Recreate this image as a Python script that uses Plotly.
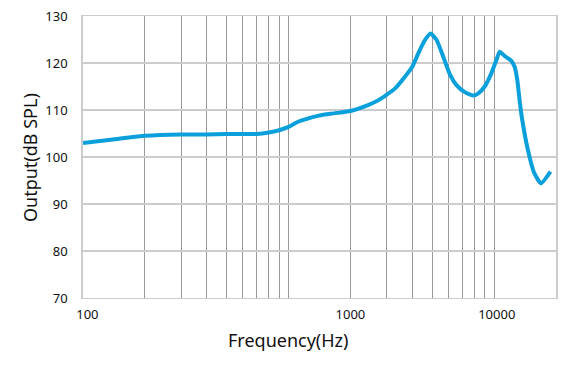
import plotly.graph_objects as go

# Frequency response data
freq_hz = [100, 150, 200, 300, 400, 500, 600, 700, 800, 900, 1000, 1100, 1250, 1400,
           1600, 2000, 2450, 2740, 3300, 4000, 4280, 4610, 4900, 5250, 5660, 6090, 6560,
           7200, 7900, 8350, 9000, 9690, 10250, 10640, 11250, 12100, 12580, 12960, 13300,
           13700, 14600, 15700, 16900, 18800]
output_db = [103.0, 103.9, 104.5, 104.8, 104.8, 104.9, 104.9, 104.9, 105.2, 105.7, 106.4,
             107.4, 108.2, 108.8, 109.2, 109.8, 111.1, 112.1, 114.6, 119.2, 122.1, 124.9,
             126.3, 124.9, 121.3, 117.6, 115.3, 113.8, 113.1, 113.5, 115.0, 117.8, 120.6,
             122.4, 121.5, 120.5, 119.2, 116.4, 112.1, 107.9, 101.5, 96.5, 94.4, 96.9]

# Axis labels (as printed in the reference)
x_tick_text = ["100", "1000", "10000"]
x_tick_pos = [105, 2000, 10300]
grid_freqs = [200, 300, 400, 500, 600, 700, 800, 900, 1000,
              2000, 3000, 4000, 5000, 6000, 7000, 8000, 9000, 10000]
y_ticks = [70, 80, 90, 100, 110, 120, 130]
x_title = "Frequency(Hz)"
y_title = "Output(dB SPL)"

fig = go.Figure()
fig.add_trace(go.Scatter(
    x=freq_hz, y=output_db, mode="lines",
    line=dict(color="#0aa0dc", width=4, shape="spline", smoothing=0.5),
    showlegend=False, hoverinfo="skip"))

font_family = "Noto Sans"
L, R, T, B, W, H = 83, 19, 16, 70, 575, 368
pw, ph = W - L - R, H - T - B

fig.update_layout(
    width=W, height=H,
    margin=dict(l=L, r=R, t=T, b=B),
    paper_bgcolor="white", plot_bgcolor="white",
    font=dict(family=font_family, color="#111111", size=13),
    xaxis=dict(
        type="log", range=[2, 4.301], automargin=False,
        tickvals=x_tick_pos, ticktext=x_tick_text,
        showgrid=False, zeroline=False,
        ticks="", ticklabelstandoff=4,
        tickfont=dict(size=13, family=font_family),
        showline=True, linecolor="#cccccc", linewidth=1, mirror=True,
        minor=dict(tickvals=grid_freqs, showgrid=True, gridcolor="#999999",
                   gridwidth=1, ticks=""),
    ),
    yaxis=dict(
        range=[70, 130], tickvals=y_ticks, automargin=False,
        showgrid=True, gridcolor="#cccccc", gridwidth=1.5, zeroline=False,
        ticks="", ticklabelstandoff=11,
        tickfont=dict(size=13, family=font_family),
        showline=True, linecolor="#cccccc", linewidth=1.5, mirror=True,
    ),
    annotations=[
        dict(text=x_title, xref="paper", yref="paper",
             x=(288 - L) / pw, y=(H - B - 340) / ph, xanchor="center", yanchor="middle",
             showarrow=False, font=dict(size=18, family=font_family, color="#111111")),
        dict(text=y_title, xref="paper", yref="paper", textangle=-90,
             x=(30 - L) / pw, y=(H - B - 158) / ph, xanchor="center", yanchor="middle",
             showarrow=False, font=dict(size=18, family=font_family, color="#111111")),
    ],
)

fig.write_html("out.html", config={"displayModeBar": False},
               post_script="document.body.style.margin='0px';")
